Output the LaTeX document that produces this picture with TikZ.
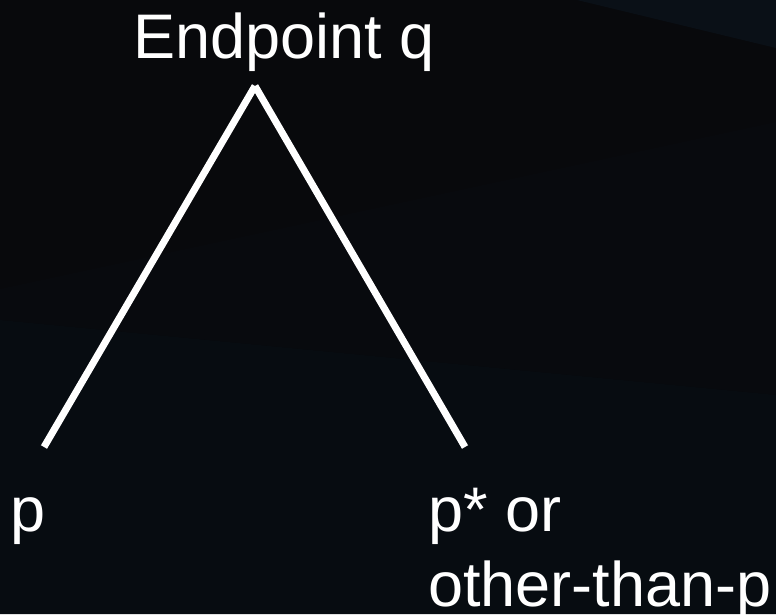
\documentclass[tikz,border=0pt]{standalone}
\usepackage{fontspec}
\setmainfont{Liberation Sans}
\usetikzlibrary{positioning}

\definecolor{bgdark}{HTML}{08090C}
\definecolor{bgband}{HTML}{080A0E}
\definecolor{bglow}{HTML}{070C11}
\definecolor{bgcorner}{HTML}{0A1017}

\begin{document}
\begin{tikzpicture}[
    x=1pt, y=-1pt,
    caption/.style={text=white, inner sep=0pt, anchor=base west, align=left,
        font=\fontsize{63}{75}\selectfont},
    branch/.style={draw=white, line width=7pt}
]

% Background
\fill[bgdark] (0,0) rectangle (776,614);
\fill[bgband] (0,289) -- (776,122) -- (776,395) -- (0,320) -- cycle;
\fill[bglow] (0,320) -- (776,395) -- (776,614) -- (0,614) -- cycle;
\fill[bgcorner] (577,0) -- (776,0) -- (776,48) -- cycle;
\useasboundingbox (0,0) rectangle (776,614);

% Labels
\node[caption] (endq) at (133,58) {Endpoint q};
\node[caption] (pleft) at (10,531) {p};
\node[caption] (pright) at (428,606) {p* or\\other-than-p};

% Branches
\coordinate (apex) at (255,86);
\coordinate (pend) at (44,447);
\coordinate (qend) at (465,447);
\draw[branch] (apex) -- (pend);
\draw[branch] (apex) -- (qend);

\end{tikzpicture}
\end{document}
